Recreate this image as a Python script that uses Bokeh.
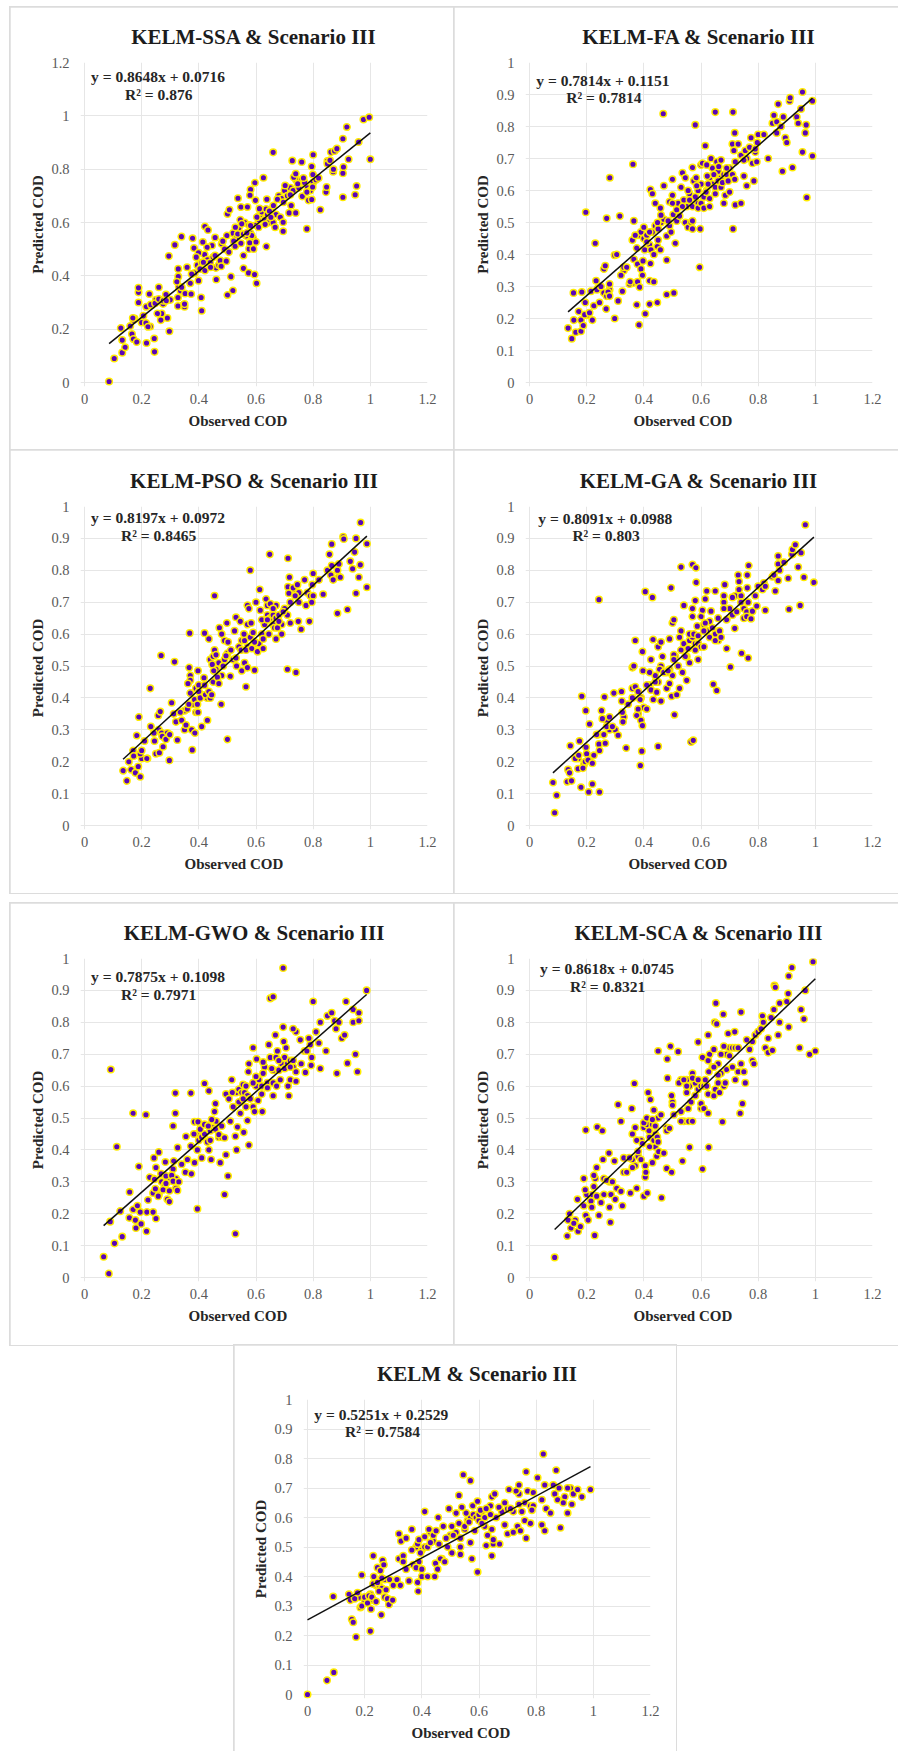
from bokeh.plotting import figure
from bokeh.layouts import column, row
from bokeh.models import Range1d, FixedTicker, Label, Title, Spacer
from bokeh.embed import file_html
from bokeh.resources import INLINE

ssa = [(.086,.004),(.104,.09),(.132,.112),(.142,.132),(.127,.204),(.132,.159),(.166,.182),(.16,.212),(.171,.163),(.183,.152),(.217,.148),(.244,.165),(.245,.115),(.297,.192),(.29,.242),(.27,.259),(.267,.234),(.255,.259),(.215,.223),(.222,.209),(.206,.25),(.171,.234),(.169,.242),(.189,.3),(.189,.338),(.189,.355),(.227,.332),(.216,.284),(.232,.292),(.247,.297),(.26,.357),(.26,.313),(.276,.307),(.285,.33),(.286,.307),(.295,.474),(.316,.516),(.339,.547),(.378,.541),(.383,.504),(.328,.426),(.328,.397),(.323,.378),(.327,.319),(.327,.287),(.35,.284),(.35,.294),(.336,.344),(.352,.334),(.373,.332),(.37,.372),(.34,.357),(.359,.432),(.375,.407),(.399,.382),(.408,.319),(.41,.269),(.399,.486),(.391,.47),(.414,.527),(.421,.585),(.432,.572),(.446,.514),(.457,.544),(.429,.507),(.416,.451),(.404,.426),(.421,.42),(.441,.432),(.457,.476),(.475,.457),(.478,.436),(.461,.386),(.484,.53),(.498,.551),(.5,.632),(.507,.648),(.496,.455),(.512,.397),(.519,.345),(.5,.328),(.505,.489),(.522,.53),(.527,.511),(.528,.582),(.537,.691),(.547,.658),(.545,.61),(.55,.595),(.536,.557),(.556,.557),(.547,.522),(.556,.476),(.556,.428),(.574,.411),(.595,.405),(.602,.372),(.576,.501),(.591,.501),(.578,.524),(.6,.527),(.585,.551),(.568,.561),(.581,.589),(.57,.658),(.581,.724),(.579,.702),(.596,.749),(.598,.683),(.626,.768),(.603,.62),(.612,.652),(.638,.687),(.636,.51),(.632,.593),(.609,.582),(.647,.643),(.652,.62),(.667,.582),(.661,.664),(.66,.863),(.685,.62),(.675,.687),(.696,.676),(.695,.601),(.695,.567),(.702,.739),(.72,.704),(.723,.664),(.716,.636),(.739,.636),(.727,.832),(.732,.77),(.739,.783),(.746,.745),(.76,.827),(.762,.698),(.766,.767),(.778,.714),(.778,.576),(.784,.683),(.795,.686),(.795,.81),(.8,.854),(.798,.733),(.799,.78),(.819,.767),(.825,.648),(.845,.714),(.847,.733),(.85,.82),(.859,.833),(.871,.8),(.862,.864),(.875,.868),(.883,.877),(.904,.785),(.906,.808),(.904,.695),(.904,.914),(.918,.958),(.924,.837),(.947,.704),(.952,.737),(.959,.902),(.976,.986),(.996,.995),(1,.837)]
ssa_hidden = [(.175,.24),(.2,.225),(.23,.21),(.235,.29),(.25,.31),(.275,.295),(.3,.31),(.33,.36),(.345,.29),(.385,.41),(.395,.44),(.41,.45),(.42,.48),(.43,.46),(.44,.45),(.45,.47),(.46,.43),(.47,.44),(.48,.52),(.49,.5),(.52,.56),(.53,.54),(.54,.58),(.56,.6),(.565,.55),(.575,.59),(.58,.56),(.59,.54),(.6,.59),(.61,.61),(.615,.63),(.62,.64),(.63,.61),(.635,.65),(.64,.63),(.645,.6),(.655,.65),(.66,.6),(.67,.63),(.68,.7),(.69,.69),(.7,.72),(.71,.7),(.72,.73),(.73,.72),(.74,.76),(.75,.73),(.76,.76),(.77,.75),(.78,.73),(.79,.72),(.8,.75),(.81,.76),(.85,.83),(.87,.79)]
fa = [(.135,.17),(.148,.137),(.162,.157),(.155,.195),(.154,.28),(.18,.16),(.18,.195),(.183,.283),(.172,.222),(.188,.178),(.193,.212),(.195,.25),(.197,.532),(.21,.218),(.22,.195),(.225,.24),(.215,.285),(.23,.435),(.233,.318),(.236,.29),(.245,.25),(.25,.3),(.26,.355),(.265,.365),(.268,.23),(.27,.513),(.275,.283),(.28,.27),(.28,.308),(.281,.64),(.298,.2),(.298,.398),(.31,.255),(.305,.4),(.316,.52),(.32,.335),(.325,.285),(.33,.36),(.34,.36),(.35,.308),(.352,.315),(.362,.682),(.36,.445),(.365,.505),(.365,.385),(.37,.46),(.375,.42),(.378,.37),(.378,.315),(.375,.243),(.383,.18),(.385,.298),(.39,.355),(.395,.335),(.397,.38),(.4,.485),(.403,.415),(.405,.215),(.41,.44),(.42,.245),(.42,.318),(.423,.372),(.425,.415),(.42,.47),(.423,.603),(.43,.59),(.435,.4),(.435,.315),(.44,.56),(.447,.25),(.447,.425),(.448,.5),(.45,.445),(.458,.415),(.458,.545),(.46,.523),(.468,.84),(.47,.615),(.48,.458),(.48,.275),(.48,.383),(.485,.505),(.49,.565),(.495,.47),(.5,.585),(.5,.56),(.5,.635),(.503,.525),(.505,.28),(.51,.435),(.515,.505),(.515,.54),(.525,.52),(.53,.61),(.535,.655),(.535,.55),(.545,.5),(.545,.64),(.555,.485),(.555,.6),(.56,.57),(.565,.5),(.57,.672),(.57,.48),(.57,.505),(.575,.63),(.58,.805),(.583,.64),(.585,.615),(.59,.545),(.595,.36),(.597,.48),(.6,.56),(.605,.685),(.61,.545),(.615,.74),(.618,.595),(.62,.68),(.622,.645),(.625,.62),(.63,.575),(.63,.55),(.635,.7),(.645,.65),(.65,.845),(.65,.59),(.655,.69),(.66,.63),(.662,.675),(.67,.695),(.675,.625),(.68,.56),(.685,.585),(.69,.67),(.695,.63),(.7,.595),(.71,.745),(.71,.65),(.712,.48),(.712,.845),(.715,.725),(.718,.78),(.718,.635),(.72,.555),(.73,.745),(.74,.56),(.75,.645),(.75,.695),(.755,.725),(.76,.615),(.77,.735),(.775,.765),(.78,.685),(.785,.63),(.79,.73),(.795,.69),(.797,.75),(.8,.775),(.82,.775),(.835,.7),(.85,.81),(.855,.835),(.865,.78),(.865,.815),(.87,.87),(.88,.8),(.885,.66),(.888,.83),(.895,.765),(.9,.75),(.91,.88),(.912,.89),(.92,.672),(.935,.83),(.94,.81),(.95,.855),(.955,.908),(.955,.72),(.965,.78),(.968,.805),(.97,.578),(.99,.88),(.99,.708)]
fa_hidden = [(.2,.21),(.24,.295),(.26,.28),(.27,.27),(.28,.29),(.33,.35),(.36,.31),(.38,.46),(.39,.47),(.4,.45),(.41,.46),(.42,.43),(.43,.47),(.44,.49),(.45,.48),(.46,.5),(.47,.51),(.49,.49),(.52,.56),(.54,.57),(.55,.55),(.56,.59),(.57,.55),(.58,.58),(.59,.6),(.59,.56),(.6,.62),(.6,.68),(.61,.58),(.62,.6),(.63,.64),(.64,.62),(.64,.67),(.65,.61),(.65,.65),(.66,.66),(.67,.64),(.67,.61),(.68,.65),(.69,.65),(.7,.67),(.72,.69),(.74,.71),(.76,.7),(.79,.72)]
pso = [(.135,.172),(.148,.14),(.155,.2),(.163,.175),(.17,.235),(.172,.218),(.178,.165),(.183,.282),(.188,.185),(.19,.34),(.195,.153),(.195,.225),(.2,.235),(.21,.265),(.218,.21),(.23,.43),(.232,.31),(.243,.29),(.245,.265),(.25,.225),(.262,.228),(.258,.345),(.265,.357),(.268,.533),(.272,.28),(.275,.247),(.285,.27),(.298,.285),(.297,.204),(.305,.385),(.312,.35),(.315,.513),(.32,.325),(.325,.268),(.335,.355),(.34,.33),(.35,.3),(.355,.315),(.36,.365),(.365,.38),(.366,.495),(.368,.603),(.37,.47),(.37,.455),(.362,.445),(.37,.415),(.375,.3),(.377,.237),(.385,.395),(.386,.29),(.39,.355),(.395,.38),(.397,.355),(.397,.485),(.4,.42),(.405,.4),(.41,.31),(.418,.463),(.42,.603),(.423,.41),(.43,.33),(.435,.585),(.435,.42),(.44,.4),(.445,.41),(.447,.505),(.45,.45),(.452,.485),(.455,.72),(.455,.55),(.46,.535),(.465,.465),(.47,.445),(.472,.62),(.478,.38),(.48,.6),(.485,.5),(.49,.58),(.495,.532),(.498,.635),(.5,.27),(.502,.575),(.51,.468),(.512,.55),(.525,.61),(.53,.525),(.53,.653),(.532,.5),(.545,.64),(.55,.485),(.548,.55),(.558,.6),(.56,.51),(.565,.55),(.565,.435),(.57,.495),(.57,.63),(.57,.69),(.575,.68),(.58,.8),(.583,.635),(.585,.555),(.59,.605),(.595,.575),(.595,.487),(.6,.7),(.605,.545),(.613,.74),(.615,.675),(.62,.645),(.625,.585),(.625,.555),(.635,.71),(.64,.645),(.645,.6),(.648,.85),(.65,.695),(.66,.68),(.665,.62),(.67,.585),(.675,.62),(.68,.64),(.69,.6),(.695,.67),(.712,.748),(.712,.838),(.71,.49),(.715,.728),(.717,.778),(.72,.635),(.73,.745),(.737,.72),(.74,.48),(.745,.755),(.748,.64),(.75,.7),(.758,.615),(.77,.77),(.775,.69),(.787,.64),(.795,.7),(.797,.755),(.8,.79),(.82,.77),(.835,.725),(.85,.8),(.857,.85),(.862,.785),(.865,.882),(.865,.815),(.87,.77),(.885,.665),(.885,.8),(.89,.82),(.895,.778),(.905,.905),(.907,.898),(.92,.677),(.93,.828),(.938,.805),(.945,.857),(.95,.9),(.95,.728),(.96,.778),(.965,.817),(.966,.95),(.988,.883),(.988,.747)]
pso_hidden = [(.2,.21),(.22,.21),(.26,.3),(.27,.29),(.28,.275),(.29,.29),(.35,.36),(.38,.38),(.39,.43),(.4,.44),(.41,.41),(.42,.44),(.43,.4),(.44,.52),(.45,.53),(.46,.49),(.47,.51),(.48,.47),(.49,.52),(.5,.54),(.52,.52),(.54,.56),(.55,.58),(.56,.58),(.57,.56),(.58,.59),(.6,.57),(.61,.57),(.62,.6),(.63,.63),(.64,.66),(.64,.69),(.65,.65),(.66,.66),(.66,.63),(.67,.65),(.67,.69),(.68,.66),(.69,.63),(.7,.68),(.71,.66),(.72,.7),(.73,.74),(.75,.73),(.78,.73),(.79,.72),(.8,.72),(.89,.78)]
ga = [(.082,.135),(.088,.04),(.095,.095),(.132,.137),(.135,.175),(.14,.165),(.143,.25),(.147,.14),(.16,.21),(.17,.178),(.172,.22),(.175,.265),(.18,.12),(.183,.405),(.187,.18),(.195,.2),(.197,.36),(.198,.245),(.2,.225),(.205,.205),(.207,.105),(.21,.318),(.22,.13),(.22,.195),(.225,.22),(.235,.285),(.243,.708),(.243,.255),(.245,.235),(.245,.105),(.252,.36),(.255,.335),(.26,.285),(.262,.403),(.265,.258),(.27,.31),(.28,.34),(.29,.31),(.295,.415),(.31,.283),(.322,.42),(.323,.39),(.325,.355),(.327,.325),(.338,.243),(.345,.38),(.36,.495),(.365,.5),(.36,.43),(.37,.435),(.37,.58),(.375,.345),(.38,.365),(.38,.42),(.387,.395),(.388,.188),(.39,.33),(.393,.233),(.395,.545),(.397,.485),(.395,.313),(.41,.365),(.405,.733),(.41,.44),(.42,.48),(.425,.425),(.425,.52),(.43,.715),(.432,.583),(.433,.395),(.44,.45),(.445,.418),(.45,.248),(.45,.56),(.455,.49),(.46,.575),(.46,.39),(.465,.53),(.47,.48),(.48,.43),(.485,.485),(.49,.585),(.49,.445),(.495,.745),(.497,.405),(.5,.635),(.505,.535),(.505,.645),(.505,.52),(.507,.347),(.515,.41),(.52,.5),(.525,.59),(.525,.43),(.53,.81),(.53,.61),(.535,.48),(.54,.69),(.545,.53),(.55,.455),(.555,.555),(.56,.6),(.56,.51),(.565,.262),(.57,.818),(.573,.267),(.57,.68),(.57,.655),(.575,.6),(.58,.55),(.58,.705),(.582,.808),(.583,.762),(.587,.625),(.59,.595),(.59,.52),(.6,.655),(.605,.675),(.61,.56),(.61,.61),(.615,.635),(.615,.71),(.62,.735),(.63,.59),(.635,.672),(.643,.443),(.65,.735),(.655,.423),(.65,.58),(.66,.65),(.665,.61),(.67,.59),(.68,.68),(.68,.72),(.683,.755),(.69,.645),(.69,.555),(.703,.497),(.71,.715),(.718,.618),(.725,.67),(.73,.785),(.733,.74),(.733,.765),(.74,.7),(.742,.54),(.75,.65),(.76,.655),(.762,.745),(.765,.7),(.762,.785),(.765,.525),(.767,.815),(.775,.648),(.78,.672),(.79,.72),(.795,.688),(.8,.75),(.815,.74),(.82,.76),(.825,.75),(.825,.675),(.855,.785),(.86,.735),(.87,.845),(.87,.768),(.875,.8),(.89,.825),(.905,.775),(.908,.678),(.918,.85),(.92,.865),(.93,.88),(.94,.81),(.947,.69),(.95,.855),(.96,.778),(.965,.943),(.995,.762)]
ga_hidden = [(.17,.21),(.19,.19),(.21,.21),(.24,.285),(.27,.33),(.28,.3),(.3,.3),(.33,.34),(.36,.4),(.38,.35),(.39,.4),(.4,.37),(.42,.44),(.44,.47),(.45,.45),(.46,.5),(.48,.48),(.49,.49),(.5,.47),(.51,.53),(.53,.55),(.54,.57),(.55,.53),(.56,.58),(.57,.59),(.58,.57),(.59,.57),(.6,.56),(.61,.63),(.62,.61),(.63,.64),(.64,.62),(.65,.6),(.66,.58),(.68,.7),(.7,.68),(.71,.66),(.72,.72),(.74,.72),(.75,.68),(.76,.67),(.85,.78),(.87,.82),(.92,.85)]
gwo = [(.067,.065),(.085,.012),(.09,.175),(.092,.652),(.105,.107),(.113,.41),(.125,.208),(.132,.128),(.157,.187),(.158,.268),(.17,.515),(.17,.213),(.178,.18),(.18,.155),(.185,.225),(.19,.348),(.195,.205),(.198,.168),(.215,.51),(.217,.145),(.218,.205),(.222,.243),(.228,.314),(.24,.265),(.24,.205),(.243,.375),(.245,.308),(.248,.278),(.25,.185),(.25,.345),(.258,.255),(.26,.393),(.268,.325),(.275,.275),(.283,.362),(.285,.318),(.285,.295),(.29,.245),(.297,.272),(.297,.238),(.305,.32),(.31,.302),(.31,.475),(.312,.365),(.318,.515),(.318,.578),(.325,.273),(.326,.407),(.33,.3),(.34,.355),(.353,.33),(.355,.442),(.36,.37),(.372,.578),(.372,.412),(.374,.325),(.383,.45),(.385,.488),(.385,.36),(.395,.4),(.397,.488),(.395,.215),(.405,.465),(.41,.375),(.42,.608),(.42,.48),(.43,.425),(.433,.475),(.435,.585),(.435,.4),(.44,.43),(.443,.37),(.445,.495),(.455,.52),(.458,.545),(.458,.465),(.47,.448),(.475,.36),(.48,.475),(.49,.26),(.49,.438),(.495,.385),(.495,.575),(.502,.318),(.505,.56),(.51,.49),(.515,.62),(.517,.58),(.52,.535),(.528,.443),(.528,.137),(.532,.4),(.535,.472),(.54,.55),(.545,.515),(.555,.605),(.555,.56),(.557,.455),(.565,.6),(.565,.535),(.57,.492),(.575,.67),(.573,.645),(.575,.415),(.59,.72),(.59,.61),(.59,.535),(.595,.52),(.6,.63),(.602,.685),(.607,.555),(.62,.575),(.622,.52),(.625,.64),(.625,.675),(.64,.595),(.645,.73),(.65,.875),(.66,.88),(.655,.655),(.66,.61),(.66,.57),(.668,.76),(.672,.6),(.675,.71),(.68,.68),(.685,.62),(.695,.785),(.695,.97),(.697,.74),(.7,.655),(.705,.72),(.712,.6),(.715,.57),(.72,.66),(.72,.62),(.73,.68),(.73,.78),(.74,.615),(.74,.645),(.755,.745),(.758,.67),(.773,.643),(.778,.71),(.785,.75),(.795,.69),(.793,.665),(.8,.865),(.81,.77),(.82,.735),(.825,.8),(.825,.655),(.845,.71),(.85,.82),(.865,.83),(.875,.805),(.88,.78),(.883,.64),(.89,.8),(.9,.75),(.91,.76),(.915,.865),(.92,.672),(.94,.84),(.94,.8),(.948,.7),(.955,.645),(.96,.83),(.96,.805),(.987,.9)]
gwo_hidden = [(.24,.31),(.26,.26),(.27,.3),(.28,.29),(.29,.3),(.3,.31),(.31,.34),(.32,.31),(.32,.28),(.39,.45),(.4,.43),(.41,.44),(.42,.45),(.44,.46),(.45,.47),(.46,.49),(.47,.44),(.48,.44),(.53,.58),(.54,.59),(.55,.58),(.56,.58),(.57,.57),(.58,.56),(.6,.6),(.61,.62),(.62,.6),(.63,.66),(.64,.61),(.65,.69),(.66,.65),(.67,.69),(.68,.65),(.69,.67),(.7,.69),(.71,.67),(.72,.68),(.73,.66),(.74,.77),(.77,.71),(.79,.73)]
sca = [(.088,.063),(.132,.13),(.135,.18),(.14,.2),(.145,.155),(.155,.17),(.17,.145),(.168,.245),(.178,.16),(.19,.225),(.19,.31),(.195,.275),(.197,.195),(.197,.462),(.205,.18),(.215,.24),(.218,.22),(.225,.285),(.225,.32),(.228,.132),(.235,.345),(.235,.255),(.237,.472),(.243,.195),(.25,.235),(.255,.46),(.257,.37),(.26,.26),(.27,.305),(.278,.39),(.28,.22),(.283,.173),(.285,.26),(.29,.3),(.297,.365),(.3,.245),(.305,.28),(.31,.542),(.32,.49),(.32,.27),(.325,.225),(.33,.33),(.33,.375),(.34,.33),(.35,.375),(.353,.265),(.358,.53),(.36,.345),(.36,.45),(.367,.608),(.37,.47),(.375,.43),(.375,.28),(.38,.395),(.39,.37),(.395,.42),(.4,.255),(.4,.485),(.405,.35),(.405,.315),(.407,.33),(.41,.5),(.412,.265),(.415,.58),(.418,.46),(.42,.41),(.423,.558),(.43,.36),(.43,.495),(.435,.43),(.435,.525),(.44,.475),(.445,.38),(.447,.44),(.45,.71),(.452,.395),(.45,.425),(.46,.51),(.462,.25),(.47,.39),(.48,.46),(.48,.342),(.482,.685),(.483,.625),(.49,.468),(.493,.725),(.497,.33),(.497,.57),(.5,.54),(.505,.51),(.52,.708),(.523,.61),(.53,.52),(.53,.49),(.535,.365),(.54,.62),(.55,.58),(.55,.6),(.555,.53),(.557,.49),(.56,.408),(.565,.55),(.57,.625),(.57,.49),(.58,.57),(.59,.62),(.59,.738),(.6,.545),(.605,.69),(.605,.34),(.61,.53),(.615,.62),(.625,.68),(.625,.575),(.625,.515),(.627,.408),(.63,.7),(.627,.645),(.625,.76),(.645,.57),(.645,.66),(.645,.715),(.648,.8),(.652,.86),(.655,.795),(.66,.61),(.66,.635),(.665,.58),(.67,.7),(.675,.488),(.678,.825),(.68,.725),(.685,.61),(.69,.652),(.695,.765),(.7,.695),(.71,.66),(.718,.77),(.72,.62),(.73,.645),(.74,.67),(.737,.515),(.74,.832),(.745,.545),(.75,.645),(.755,.61),(.76,.745),(.77,.715),(.78,.68),(.785,.67),(.8,.77),(.81,.78),(.815,.82),(.818,.8),(.825,.72),(.835,.75),(.835,.705),(.85,.712),(.845,.815),(.855,.84),(.857,.915),(.86,.91),(.87,.76),(.875,.8),(.875,.86),(.9,.865),(.905,.89),(.907,.785),(.907,.945),(.918,.972),(.945,.72),(.95,.84),(.96,.81),(.965,.9),(.98,.7),(.992,.99),(1.0,.71)]
sca_hidden = [(.16,.18),(.2,.26),(.22,.26),(.23,.31),(.26,.31),(.28,.3),(.36,.37),(.37,.35),(.38,.38),(.39,.43),(.4,.47),(.41,.48),(.42,.44),(.43,.48),(.44,.41),(.44,.45),(.45,.5),(.46,.39),(.48,.47),(.5,.55),(.53,.62),(.54,.49),(.55,.62),(.56,.6),(.57,.64),(.58,.61),(.59,.59),(.6,.6),(.6,.53),(.61,.6),(.62,.6),(.64,.66),(.65,.59),(.66,.67),(.67,.64),(.68,.6),(.69,.7),(.7,.72),(.71,.72),(.72,.72),(.73,.72),(.78,.74),(.79,.76)]
kelm = [(0,0),(.068,.048),(.092,.075),(.09,.332),(.145,.34),(.15,.32),(.155,.255),(.16,.245),(.165,.325),(.17,.195),(.175,.345),(.185,.295),(.19,.405),(.19,.3),(.2,.33),(.21,.31),(.215,.335),(.22,.215),(.222,.29),(.225,.33),(.23,.375),(.23,.47),(.232,.4),(.24,.315),(.245,.38),(.245,.43),(.25,.35),(.255,.42),(.258,.27),(.26,.395),(.263,.455),(.267,.44),(.27,.33),(.275,.355),(.28,.325),(.285,.305),(.287,.39),(.298,.32),(.3,.37),(.313,.39),(.32,.46),(.32,.545),(.325,.37),(.327,.52),(.335,.47),(.335,.45),(.345,.425),(.345,.53),(.355,.385),(.365,.56),(.365,.49),(.37,.44),(.38,.43),(.385,.38),(.385,.51),(.387,.35),(.39,.525),(.395,.48),(.4,.425),(.4,.4),(.41,.535),(.41,.62),(.42,.5),(.42,.4),(.425,.56),(.43,.515),(.44,.54),(.445,.4),(.448,.445),(.45,.555),(.455,.425),(.457,.6),(.465,.46),(.475,.57),(.48,.45),(.485,.53),(.49,.5),(.495,.63),(.505,.57),(.505,.48),(.51,.54),(.52,.615),(.53,.58),(.53,.675),(.535,.53),(.535,.5),(.535,.475),(.54,.635),(.545,.745),(.55,.57),(.555,.615),(.565,.585),(.57,.515),(.57,.725),(.575,.46),(.578,.64),(.585,.555),(.595,.415),(.595,.655),(.605,.625),(.61,.58),(.62,.6),(.625,.505),(.625,.63),(.63,.54),(.64,.61),(.645,.47),(.645,.56),(.645,.67),(.65,.525),(.655,.68),(.67,.635),(.672,.51),(.69,.575),(.69,.65),(.7,.545),(.705,.695),(.71,.63),(.72,.55),(.73,.69),(.735,.57),(.74,.645),(.74,.71),(.745,.555),(.75,.62),(.76,.59),(.765,.755),(.765,.53),(.77,.69),(.78,.58),(.785,.625),(.79,.685),(.805,.735),(.82,.575),(.82,.66),(.825,.815),(.83,.71),(.83,.555),(.835,.63),(.85,.615),(.86,.71),(.865,.68),(.87,.76),(.875,.66),(.88,.7),(.885,.565),(.895,.65),(.91,.615),(.91,.7),(.925,.645),(.93,.68),(.945,.695),(.96,.67),(.99,.695)]
kelm_hidden = [(.18,.33),(.2,.32),(.22,.34),(.23,.32),(.24,.37),(.25,.37),(.26,.36),(.27,.39),(.38,.5),(.39,.45),(.4,.49),(.41,.5),(.43,.55),(.44,.52),(.46,.51),(.47,.46),(.5,.54),(.52,.55),(.55,.56),(.56,.59),(.57,.6),(.58,.61),(.59,.6),(.6,.59),(.6,.61),(.61,.62),(.62,.57),(.63,.63),(.64,.64),(.65,.51),(.66,.6),(.68,.62),(.7,.63),(.72,.62),(.74,.68),(.76,.65),(.78,.64),(.79,.64),(.9,.67),(.92,.7)]

x_ticks = [0, 0.2, 0.4, 0.6, 0.8, 1, 1.2]
y_ticks_10 = [0, 0.1, 0.2, 0.3, 0.4, 0.5, 0.6, 0.7, 0.8, 0.9, 1]
y_ticks_12 = [0, 0.2, 0.4, 0.6, 0.8, 1, 1.2]
FONT = "Liberation Serif"
PAD = 4
PW = 343


def panel(name, pts, slope, icpt, eq, r2, yt, w, h, l, r, t, b, eqx, eqy, rx, ry, xlab_off, clip_bottom=False):
    ymax = yt[-1]
    ph = h - t - b
    xs = [a for a, _ in pts]
    ys = [c for _, c in pts]
    p = figure(width=w, height=h, output_backend="svg", toolbar_location=None,
               x_range=Range1d(-PAD * 1.2 / PW, 1.2), y_range=Range1d(-PAD * ymax / ph, ymax),
               min_border_left=l - PAD, min_border_right=r, min_border_top=t, min_border_bottom=b - PAD,
               background_fill_color="white", border_fill_color="white", outline_line_color=None)
    p.margin = (0, 0, 0, 0)
    st = {"outline": "2px solid #dcdcdc", "outline-offset": "-1px"}
    if clip_bottom:
        st["clip-path"] = "inset(-2px -2px 1px -2px)"
    p.styles = st
    p.title.text = name
    p.title.align = "center"
    p.title.text_font = FONT
    p.title.text_font_size = "21px"
    p.title.text_color = "#1c1c1c"
    p.title.standoff = 28
    for ax, ticks in ((p.xaxis[0], x_ticks), (p.yaxis[0], yt)):
        ax.ticker = FixedTicker(ticks=ticks)
        ax.major_label_overrides = {v: str(v) for v in ticks}
        ax.major_tick_line_color = None
        ax.minor_tick_line_color = None
        ax.axis_line_color = None
        ax.major_label_text_font = FONT
        ax.major_label_text_font_size = "14.5px"
        ax.major_label_text_color = "#5a5a5a"
    p.xaxis[0].major_label_standoff = 1
    p.yaxis[0].major_label_standoff = 5
    p.yaxis[0].axis_label = "Predicted COD"
    p.yaxis[0].axis_label_text_font = FONT
    p.yaxis[0].axis_label_text_font_size = "15px"
    p.yaxis[0].axis_label_text_font_style = "bold"
    p.yaxis[0].axis_label_text_color = "#262626"
    p.yaxis[0].axis_label_standoff = 2
    p.xgrid[0].ticker = FixedTicker(ticks=x_ticks)
    p.ygrid[0].ticker = FixedTicker(ticks=yt)
    p.xgrid[0].bounds = (0, 1.2)
    p.ygrid[0].bounds = (0, ymax)
    p.xgrid[0].grid_line_color = "#e6e6e6"
    p.ygrid[0].grid_line_color = "#e6e6e6"
    p.scatter(xs, ys, size=6.6, marker="circle", fill_color="#5A06B8", line_color="#FFEB00", line_width=1.5)
    x0, x1 = min(xs), max(xs)
    p.line([x0, x1], [slope * x0 + icpt, slope * x1 + icpt], line_color="#111111", line_width=1.5)
    for txt, lx, ly in ((eq, eqx, eqy), (r2, rx, ry)):
        p.add_layout(Label(x=lx, y=ly, y_offset=5, text=txt, text_font=FONT, text_font_size="15.5px",
                           text_font_style="bold", text_color="#262626", text_align="left",
                           text_baseline="alphabetic"))
    p.add_layout(Title(text="Observed COD", align="left", offset=xlab_off, standoff=8, text_font=FONT,
                       text_font_size="15px", text_font_style="bold", text_color="#262626"), "below")
    return p


p1 = panel("KELM-SSA & Scenario III", ssa_hidden + ssa, .8648, .0716, "y = 0.8648x + 0.0716", "R² = 0.876", y_ticks_12,
           444, 443, 74, 27, 55, 68, .023, 1.128, .142, 1.06, 108)
p2 = panel("KELM-FA & Scenario III", fa_hidden + fa, .7814, .1151, "y = 0.7814x + 0.1151", "R² = 0.7814", y_ticks_10,
           444, 443, 75, 26, 55, 68, .024, .929, .129, .874, 108)
p3 = panel("KELM-PSO & Scenario III", pso_hidden + pso, .8197, .0972, "y = 0.8197x + 0.0972", "R² = 0.8465", y_ticks_10,
           444, 443, 74, 27, 56, 68, .023, .95, .128, .894, 104)
p4 = panel("KELM-GA & Scenario III", ga_hidden + ga, .8091, .0988, "y = 0.8091x + 0.0988", "R² = 0.803", y_ticks_10,
           444, 443, 75, 26, 56, 68, .031, .947, .15, .892, 103)
p5 = panel("KELM-GWO & Scenario III", gwo_hidden + gwo, .7875, .1098, "y = 0.7875x + 0.1098", "R² = 0.7971", y_ticks_10,
           444, 442, 74, 27, 55, 68, .023, .929, .128, .872, 108)
p6 = panel("KELM-SCA & Scenario III", sca_hidden + sca, .8618, .0745, "y = 0.8618x + 0.0745", "R² = 0.8321", y_ticks_10,
           444, 442, 75, 26, 55, 68, .037, .953, .142, .897, 108)
p7 = panel("KELM & Scenario III", kelm_hidden + kelm, .5251, .2529, "y = 0.5251x + 0.2529", "R² = 0.7584", y_ticks_10,
           442, 407, 73, 26, 54, 58, .024, .931, .131, .875, 108, clip_bottom=True)

layout = column(Spacer(width=10, height=7),
                row(Spacer(width=10, height=443), p1, p2),
                row(Spacer(width=10, height=443), p3, p4),
                Spacer(width=10, height=10),
                row(Spacer(width=10, height=442), p5, p6),
                row(Spacer(width=234, height=407), p7),
                spacing=0)
open("out.html", "w").write(file_html(layout, INLINE))
